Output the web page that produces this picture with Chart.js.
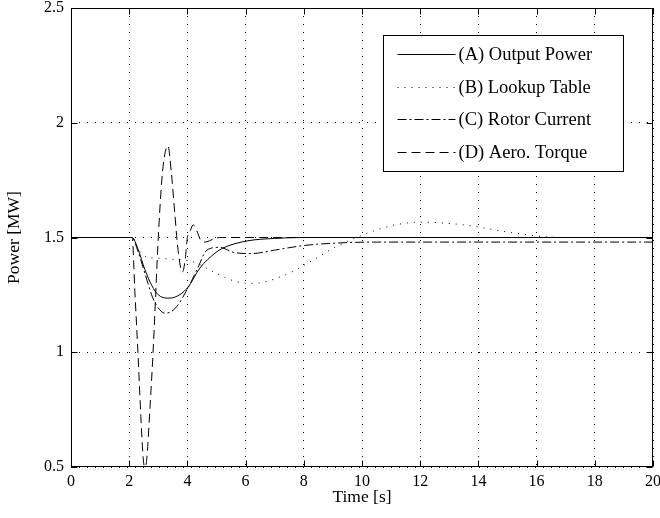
<!DOCTYPE html>
<html>
<head>
<meta charset="utf-8">
<script src="https://cdn.jsdelivr.net/npm/chart.js@4/dist/chart.umd.min.js"></script>
<style>
html,body{margin:0;padding:0;background:#fff;}
#wrap{width:660px;height:518px;}
</style>
</head>
<body>
<div id="wrap"><canvas id="c" width="660" height="518"></canvas></div>
<script>
// Time axis tick labels and power tick labels
const xTicks = [0, 2, 4, 6, 8, 10, 12, 14, 16, 18, 20];
const yTicks = [0.5, 1, 1.5, 2, 2.5];
const seriesNames = ['(A) Output Power', '(B) Lookup Table', '(C) Rotor Current', '(D) Aero. Torque'];

// (A) Output Power
const aT = [0, 2.1, 2.3, 2.54, 2.78, 3.0, 3.33, 3.57, 4.0, 4.43, 4.95, 5.22, 6.05, 7.0, 8.0, 20];
const aV = [1.5, 1.5, 1.45, 1.36, 1.29, 1.25, 1.236, 1.24, 1.28, 1.367, 1.432, 1.454, 1.485, 1.496, 1.5, 1.5];

// (B) Lookup Table
const bT = [0, 2.1, 2.3, 2.6, 3.0, 3.5, 4.0, 4.3, 4.6, 4.9, 5.5, 6.1, 6.6, 7.5, 8.3, 9.0, 10.0, 10.5, 11.1, 12.0, 12.8, 13.8, 14.7, 15.5, 16.3, 17.0, 20];
const bV = [1.5, 1.5, 1.45, 1.415, 1.41, 1.405, 1.4, 1.39, 1.37, 1.35, 1.315, 1.3, 1.305, 1.345, 1.4, 1.453, 1.51, 1.533, 1.554, 1.567, 1.563, 1.55, 1.53, 1.515, 1.503, 1.5, 1.5];

// (C) Rotor Current
const cT = [0, 2.1, 2.3, 2.55, 2.8, 2.96, 3.23, 3.57, 4.02, 4.33, 4.67, 5.1, 5.6, 6.2, 7.0, 8.0, 9.0, 10.5, 12, 20];
const cV = [1.5, 1.5, 1.44, 1.34, 1.24, 1.2, 1.17, 1.19, 1.28, 1.36, 1.445, 1.457, 1.435, 1.43, 1.445, 1.465, 1.475, 1.48, 1.48, 1.48];

// (D) Aero. Torque
const dT = [0, 2.1, 2.2, 2.3, 2.4, 2.48, 2.53, 2.6, 2.71, 2.82, 3.0, 3.12, 3.22, 3.33, 3.45, 3.57, 3.65, 3.75, 3.83, 3.92, 4.0, 4.1, 4.2, 4.32, 4.45, 4.6, 4.75, 4.95, 5.2, 5.6, 20];
const dV = [1.5, 1.5, 1.25, 1.0, 0.72, 0.54, 0.5, 0.53, 0.75, 1.0, 1.5, 1.75, 1.86, 1.9, 1.78, 1.6, 1.48, 1.38, 1.35, 1.4, 1.5, 1.53, 1.555, 1.53, 1.49, 1.48, 1.485, 1.497, 1.5, 1.5, 1.5];

const FONT = "'Liberation Serif', 'Times New Roman', Times, serif";
const toPts = (t, v) => t.map((x, i) => ({x: x, y: v[i]}));

function ds(label, t, v, dash) {
  return {
    label: label,
    data: toPts(t, v),
    borderColor: '#000',
    borderWidth: 1,
    borderDash: dash,
    pointRadius: 0,
    fill: false,
    cubicInterpolationMode: 'monotone'
  };
}

const framePlugin = {
  id: 'frame',
  afterDatasetsDraw(chart) {
    const ctx = chart.ctx, a = chart.chartArea;
    const xs = chart.scales.x, ys = chart.scales.y;
    ctx.save();
    ctx.strokeStyle = '#000';
    ctx.lineWidth = 1;
    ctx.setLineDash([]);
    const L = Math.round(a.left) + 0.5, R = Math.round(a.right) - 0.5;
    const T = Math.round(a.top) + 0.5, B = Math.round(a.bottom) - 0.5;
    ctx.strokeRect(L, T, R - L, B - T);
    const tl = 6;
    ctx.beginPath();
    xTicks.forEach(v => {
      const px = Math.round(xs.getPixelForValue(v)) + 0.5;
      ctx.moveTo(px, B); ctx.lineTo(px, B - tl);
      ctx.moveTo(px, T); ctx.lineTo(px, T + tl);
    });
    yTicks.forEach(v => {
      const py = Math.round(ys.getPixelForValue(v)) + 0.5;
      ctx.moveTo(L, py); ctx.lineTo(L + tl, py);
      ctx.moveTo(R, py); ctx.lineTo(R - tl, py);
    });
    ctx.stroke();
    ctx.restore();
  },
  afterDraw(chart) {
    const ctx = chart.ctx, a = chart.chartArea;
    const bx = Math.round(a.right) - 270 + 0.5;
    const by = Math.round(a.top) + 27 + 0.5;
    const bw = 240, bh = 136;
    ctx.save();
    ctx.fillStyle = '#fff';
    ctx.fillRect(bx, by, bw, bh);
    ctx.strokeStyle = '#000';
    ctx.lineWidth = 1;
    ctx.setLineDash([]);
    ctx.strokeRect(bx, by, bw, bh);
    const rows = [18, 51, 83, 116];
    ctx.font = '18.5px ' + FONT;
    ctx.textBaseline = 'middle';
    ctx.textAlign = 'left';
    ctx.fillStyle = '#000';
    chart.data.datasets.forEach((d, i) => {
      const y = Math.round(by + rows[i]) + 0.5;
      ctx.beginPath();
      ctx.setLineDash(d.borderDash || []);
      ctx.moveTo(bx + 14, y);
      ctx.lineTo(bx + 72, y);
      ctx.stroke();
      ctx.setLineDash([]);
      ctx.fillText(d.label, bx + 75, y + 1);
    });
    ctx.restore();
  }
};

new Chart(document.getElementById('c'), {
  type: 'line',
  data: {
    datasets: [
      ds(seriesNames[0], aT, aV, []),
      ds(seriesNames[1], bT, bV, [1, 6]),
      ds(seriesNames[2], cT, cV, [9, 3, 2, 3]),
      ds(seriesNames[3], dT, dV, [9, 5])
    ]
  },
  options: {
    responsive: false,
    animation: false,
    events: [],
    layout: {padding: {left: 0, right: 7, top: 8, bottom: 0}},
    plugins: {legend: {display: false}, tooltip: {enabled: false}},
    scales: {
      x: {
        type: 'linear', min: 0, max: 20,
        afterFit: s => { s.height = 51; s.paddingLeft = 0; s.paddingRight = 0; },
        afterBuildTicks: s => { s.ticks = xTicks.map(v => ({value: v})); },
        ticks: {font: {family: FONT, size: 16}, color: '#000', padding: 5, maxRotation: 0,
                callback: v => String(v)},
        grid: {color: '#000', lineWidth: 1, drawTicks: false},
        border: {display: false, dash: [1, 7]},
        title: {display: true, text: 'Time [s]', font: {family: FONT, size: 17.5}, color: '#000',
                padding: {top: 0, bottom: 10}}
      },
      y: {
        type: 'linear', min: 0.5, max: 2.5,
        afterFit: s => { s.width = 71; s.paddingTop = 0; s.paddingBottom = 0; },
        afterBuildTicks: s => { s.ticks = yTicks.map(v => ({value: v})); },
        ticks: {font: {family: FONT, size: 16}, color: '#000', padding: 7,
                callback: v => String(v)},
        grid: {color: '#000', lineWidth: 1, drawTicks: false},
        border: {display: false, dash: [1, 7]},
        title: {display: true, text: 'Power [MW]', font: {family: FONT, size: 17.5}, color: '#000',
                padding: {top: 4, bottom: 0}}
      }
    }
  },
  plugins: [framePlugin]
});
</script>
</body>
</html>
